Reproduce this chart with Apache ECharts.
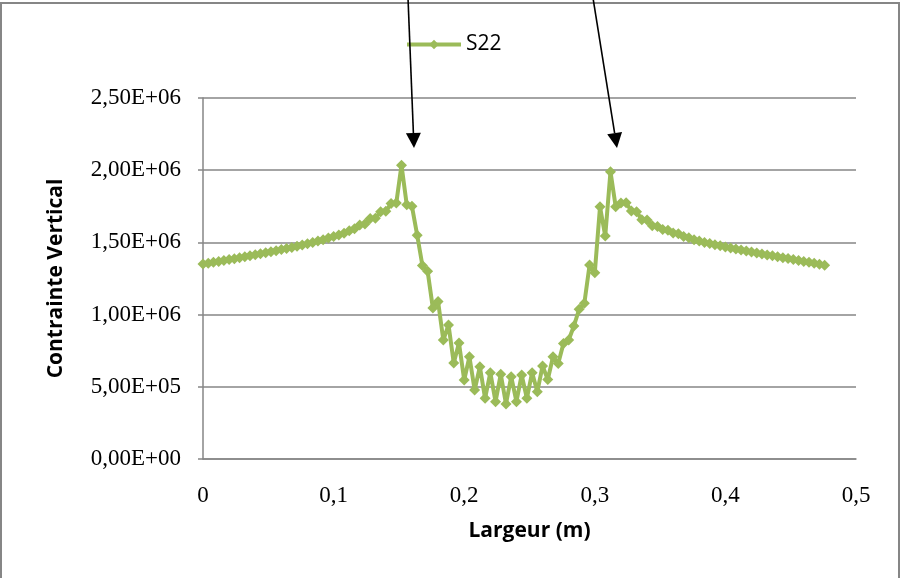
<!DOCTYPE html>
<html>
<head>
<meta charset="utf-8">
<script src="https://cdn.jsdelivr.net/npm/echarts@6/dist/echarts.min.js"></script>
<style>
  html, body { margin: 0; padding: 0; background: #fff; }
  #chart { width: 901px; height: 578px; }
</style>
</head>
<body>
<div id="chart"></div>
<script>
  // largeur (m)
  var largeur = [
    0.000, 0.004, 0.008, 0.012, 0.016, 0.020, 0.024, 0.028, 0.032, 0.036,
    0.040, 0.044, 0.048, 0.052, 0.056, 0.060, 0.064, 0.068, 0.072, 0.076,
    0.080, 0.084, 0.088, 0.092, 0.096, 0.100, 0.104, 0.108, 0.112, 0.116,
    0.120, 0.124, 0.128, 0.132, 0.136, 0.140, 0.144, 0.148, 0.152, 0.156,
    0.160, 0.164, 0.168, 0.172, 0.176, 0.180, 0.184, 0.188, 0.192, 0.196,
    0.200, 0.204, 0.208, 0.212, 0.216, 0.220, 0.224, 0.228, 0.232, 0.236,
    0.240, 0.244, 0.248, 0.252, 0.256, 0.260, 0.264, 0.268, 0.272, 0.276,
    0.280, 0.284, 0.288, 0.292, 0.296, 0.300, 0.304, 0.308, 0.312, 0.316,
    0.320, 0.324, 0.328, 0.332, 0.336, 0.340, 0.344, 0.348, 0.352, 0.356,
    0.360, 0.364, 0.368, 0.372, 0.376, 0.380, 0.384, 0.388, 0.392, 0.396,
    0.400, 0.404, 0.408, 0.412, 0.416, 0.420, 0.424, 0.428, 0.432, 0.436,
    0.440, 0.444, 0.448, 0.452, 0.456, 0.460, 0.464, 0.468, 0.472, 0.476
  ];

  // S22 (Pa)
  var s22 = [
    1.350e6, 1.356e6, 1.362e6, 1.368e6, 1.374e6, 1.381e6, 1.387e6, 1.394e6, 1.401e6, 1.407e6,
    1.414e6, 1.421e6, 1.428e6, 1.435e6, 1.442e6, 1.450e6, 1.458e6, 1.465e6, 1.474e6, 1.482e6,
    1.491e6, 1.500e6, 1.510e6, 1.519e6, 1.530e6, 1.540e6, 1.552e6, 1.563e6, 1.580e6, 1.595e6,
    1.620e6, 1.628e6, 1.665e6, 1.668e6, 1.712e6, 1.715e6, 1.770e6, 1.772e6, 2.035e6, 1.760e6,
    1.750e6, 1.550e6, 1.340e6, 1.300e6, 1.045e6, 1.090e6, 0.824e6, 0.928e6, 0.665e6, 0.803e6,
    0.547e6, 0.708e6, 0.478e6, 0.639e6, 0.420e6, 0.598e6, 0.397e6, 0.587e6, 0.381e6, 0.570e6,
    0.397e6, 0.582e6, 0.420e6, 0.598e6, 0.466e6, 0.644e6, 0.550e6, 0.708e6, 0.662e6, 0.800e6,
    0.824e6, 0.921e6, 1.037e6, 1.078e6, 1.343e6, 1.290e6, 1.747e6, 1.544e6, 1.990e6, 1.747e6,
    1.772e6, 1.775e6, 1.717e6, 1.713e6, 1.656e6, 1.655e6, 1.615e6, 1.610e6, 1.590e6, 1.585e6,
    1.565e6, 1.560e6, 1.540e6, 1.532e6, 1.518e6, 1.510e6, 1.500e6, 1.492e6, 1.484e6, 1.476e6,
    1.468e6, 1.461e6, 1.454e6, 1.447e6, 1.440e6, 1.433e6, 1.426e6, 1.419e6, 1.413e6, 1.407e6,
    1.400e6, 1.394e6, 1.388e6, 1.381e6, 1.375e6, 1.368e6, 1.362e6, 1.355e6, 1.348e6, 1.342e6
  ];

  var serieName = 'S22';

  // "2,50E+06" style
  function sci(v) {
    if (v === 0) return '0,00E+00';
    var e = Math.floor(Math.log10(Math.abs(v)) + 1e-9);
    var m = (v / Math.pow(10, e)).toFixed(2).replace('.', ',');
    return m + 'E' + (e < 0 ? '-' : '+') + (Math.abs(e) < 10 ? '0' : '') + Math.abs(e);
  }

  // arrow built from its two ends (annotation, pixels)
  function arrow(x1, y1, x2, y2) {
    var dx = x2 - x1, dy = y2 - y1;
    var len = Math.sqrt(dx * dx + dy * dy);
    var ux = dx / len, uy = dy / len;
    var hl = 15, hw = 7.5;
    var bx = x2 - ux * hl, by = y2 - uy * hl;
    return [
      { type: 'line', shape: { x1: x1, y1: y1, x2: bx, y2: by },
        style: { stroke: '#000', lineWidth: 1.6 }, z: 20 },
      { type: 'polygon',
        shape: { points: [[x2, y2], [bx - uy * hw, by + ux * hw], [bx + uy * hw, by - ux * hw]] },
        style: { fill: '#000' }, z: 20 }
    ];
  }

  var points = [];
  for (var i = 0; i < largeur.length; i++) {
    points.push([largeur[i], s22[i]]);
  }

  var dom = document.getElementById('chart');
  var myChart = echarts.init(dom, null, { renderer: 'canvas' });

  var option = {
    animation: false,
    backgroundColor: '#fff',
    legend: {
      data: [serieName],
      left: 405,
      top: 34,
      padding: 0,
      itemWidth: 54,
      itemHeight: 12,
      itemGap: 6,
      lineStyle: { width: 4 },
      textStyle: { fontFamily: 'Open Sans', fontSize: 21, color: '#000' }
    },
    grid: { left: 203, right: 45, top: 98, bottom: 119 },
    xAxis: {
      type: 'value',
      min: 0,
      max: 0.5,
      interval: 0.1,
      name: 'Largeur (m)',
      nameLocation: 'middle',
      nameGap: 62,
      nameTextStyle: { fontFamily: 'Open Sans', fontWeight: 'bold', fontSize: 21, color: '#000' },
      axisLine: { show: true, lineStyle: { color: '#868686', width: 1.5 } },
      axisTick: { show: false },
      axisLabel: {
        margin: 25,
        fontFamily: 'Liberation Serif',
        fontSize: 23,
        color: '#000',
        formatter: function (v) { return String(+v.toFixed(1)).replace('.', ','); }
      },
      splitLine: { show: false }
    },
    yAxis: {
      type: 'value',
      min: 0,
      max: 2500000,
      interval: 500000,
      name: 'Contrainte Vertical',
      nameLocation: 'middle',
      nameGap: 136,
      nameTextStyle: { fontFamily: 'Open Sans', fontWeight: 'bold', fontSize: 21, color: '#000' },
      axisLine: { show: true, lineStyle: { color: '#868686', width: 1.5 } },
      axisTick: { show: true, length: 5, lineStyle: { color: '#868686', width: 1.5 } },
      axisLabel: {
        margin: 22,
        fontFamily: 'Liberation Serif',
        fontSize: 23,
        color: '#000',
        formatter: sci
      },
      splitLine: { show: true, lineStyle: { color: '#868686', width: 1.5 } }
    },
    series: [{
      name: serieName,
      type: 'line',
      data: points,
      symbol: 'diamond',
      symbolSize: 11,
      color: '#9BBB59',
      lineStyle: { color: '#9BBB59', width: 4 },
      itemStyle: { color: '#9BBB59' },
      clip: false
    }],
    graphic: [
      { type: 'rect', shape: { x: 1, y: 3, width: 898, height: 580 },
        style: { fill: null, stroke: '#868686', lineWidth: 2 }, silent: true, z: 0 }
    ].concat(arrow(408, -2, 414, 148)).concat(arrow(593, -2, 617, 148))
  };

  myChart.setOption(option);
  window.addEventListener('resize', function () { myChart.resize(); });
</script>
</body>
</html>
